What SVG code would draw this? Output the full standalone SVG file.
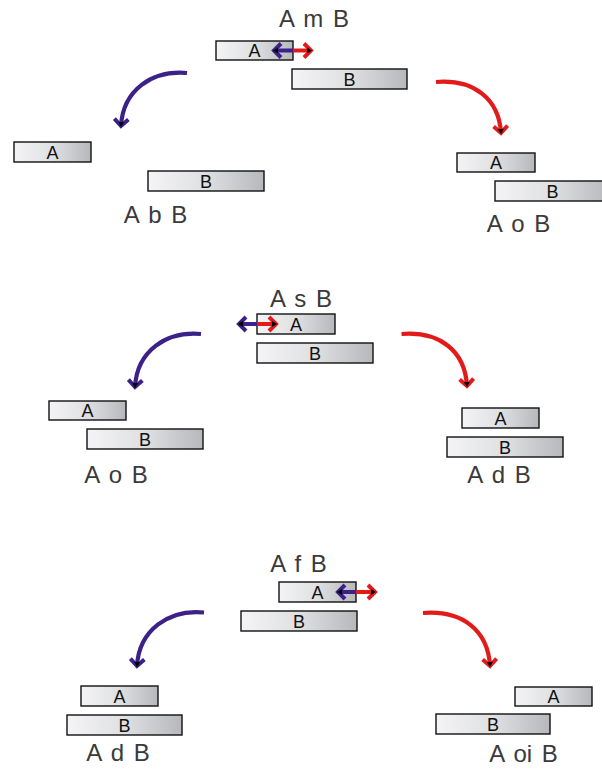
<svg xmlns="http://www.w3.org/2000/svg" width="602" height="769" viewBox="0 0 602 769">
<style>
.bar{fill:url(#g);stroke:#111;stroke-width:1.4}
.bl{font-family:"Liberation Sans",Arial,sans-serif;font-size:18px;fill:#111;text-anchor:middle}
.t{font-family:"Liberation Sans",Arial,sans-serif;font-size:24px;fill:#3a3a3a;text-anchor:middle;word-spacing:3px}
.cb{fill:none;stroke:#3b2188;stroke-width:4.2;marker-end:url(#mb)}
.cr{fill:none;stroke:#e31a1a;stroke-width:4.2;marker-end:url(#mr)}
.sb{fill:none;stroke:#3b2188;stroke-width:4;marker-end:url(#mb)}
.sr{fill:none;stroke:#e31a1a;stroke-width:4;marker-end:url(#mr)}
</style>
<defs>
<linearGradient id="g" x1="0" y1="0" x2="1" y2="0">
<stop offset="0" stop-color="#f4f4f6"/>
<stop offset="0.5" stop-color="#dfe0e2"/>
<stop offset="1" stop-color="#b6b8bb"/>
</linearGradient>
<marker id="mb" markerUnits="userSpaceOnUse" markerWidth="20" markerHeight="20" refX="0" refY="0" viewBox="-10 -10 20 20" orient="auto" overflow="visible">
<path d="M-7,-7 L0,0 L-7,7" fill="none" stroke="#3b2188" stroke-width="4"/>
<path d="M1,0 L-4,-3 L-4,3 z" fill="#000"/>
</marker>
<marker id="mr" markerUnits="userSpaceOnUse" markerWidth="20" markerHeight="20" refX="0" refY="0" viewBox="-10 -10 20 20" orient="auto" overflow="visible">
<path d="M-7,-7 L0,0 L-7,7" fill="none" stroke="#e31a1a" stroke-width="4"/>
<path d="M1,0 L-4,-3 L-4,3 z" fill="#000"/>
</marker>
</defs>

<g id="top">
<text class="t" x="314" y="27">A m B</text>
<g id="top-A"><rect class="bar" x="216" y="41" width="77" height="19"/><text class="bl" x="254.5" y="57">A</text></g>
<g id="top-B"><rect class="bar" x="292" y="69" width="115" height="20"/><text class="bl" x="349.5" y="86">B</text></g>
</g>
<g id="tl">
<g id="tl-A"><rect class="bar" x="14" y="142" width="77" height="20"/><text class="bl" x="52.5" y="159">A</text></g>
<g id="tl-B"><rect class="bar" x="148" y="171" width="116" height="20"/><text class="bl" x="206" y="188">B</text></g>
<text class="t" x="155.5" y="223">A b B</text>
</g>
<g id="tr">
<g id="tr-A"><rect class="bar" x="457" y="153" width="78" height="19"/><text class="bl" x="496" y="169">A</text></g>
<g id="tr-B"><rect class="bar" x="495" y="181" width="115" height="20"/><text class="bl" x="552.5" y="198">B</text></g>
<text class="t" x="518.5" y="231.5">A o B</text>
</g>

<g id="mid">
<text class="t" x="301" y="306.5">A s B</text>
<g id="mid-A"><rect class="bar" x="257" y="314" width="78" height="20"/><text class="bl" x="296" y="331">A</text></g>
<g id="mid-B"><rect class="bar" x="257" y="343" width="116" height="20"/><text class="bl" x="315" y="360">B</text></g>
</g>
<g id="ml">
<g id="ml-A"><rect class="bar" x="49" y="401" width="77" height="19"/><text class="bl" x="87.5" y="417">A</text></g>
<g id="ml-B"><rect class="bar" x="87" y="429" width="116" height="20"/><text class="bl" x="145" y="446">B</text></g>
<text class="t" x="116" y="483">A o B</text>
</g>
<g id="mr-grp">
<g id="mr-A"><rect class="bar" x="462" y="408" width="77" height="20"/><text class="bl" x="500.5" y="425">A</text></g>
<g id="mr-B"><rect class="bar" x="447" y="437" width="116" height="20"/><text class="bl" x="505" y="454">B</text></g>
<text class="t" x="499" y="483">A d B</text>
</g>

<g id="bot">
<text class="t" x="298.5" y="572">A f B</text>
<g id="bot-A"><rect class="bar" x="279" y="582" width="77" height="20"/><text class="bl" x="317.5" y="599">A</text></g>
<g id="bot-B"><rect class="bar" x="241" y="611" width="116" height="20"/><text class="bl" x="299" y="628">B</text></g>
</g>
<g id="bl">
<g id="bl-A"><rect class="bar" x="81" y="686" width="77" height="20"/><text class="bl" x="119.5" y="703">A</text></g>
<g id="bl-B"><rect class="bar" x="67" y="715" width="115" height="20"/><text class="bl" x="124.5" y="732">B</text></g>
<text class="t" x="118" y="761">A d B</text>
</g>
<g id="br">
<g id="br-A"><rect class="bar" x="515" y="687" width="77" height="19"/><text class="bl" x="553.5" y="703">A</text></g>
<g id="br-B"><rect class="bar" x="436" y="714" width="114" height="20"/><text class="bl" x="493" y="731">B</text></g>
<text class="t" x="523.5" y="761.5">A oi B</text>
</g>

<g id="connectors">
<path class="sb" d="M293,50.5 L274,50.5"/>
<path class="sr" d="M293,50.5 L311,50.5"/>
<path class="sb" d="M257,324 L239,324"/>
<path class="sr" d="M257,324 L276,324"/>
<path class="sb" d="M356,592 L338,592"/>
<path class="sr" d="M356,592 L375,592"/>

<path class="cb" d="M187,73 C152,70 123,90 121,126"/>
<path class="cr" d="M436,82 C474,79 499,99 501,133"/>
<path class="cb" d="M201,334 C166,331 137,351 135,387"/>
<path class="cr" d="M401.5,334 C440,331 465,351 467,386"/>
<path class="cb" d="M204,612.5 C169,609 139,630 137,666"/>
<path class="cr" d="M423,613 C462,610 488,630 490,666"/>
</g>
</svg>
